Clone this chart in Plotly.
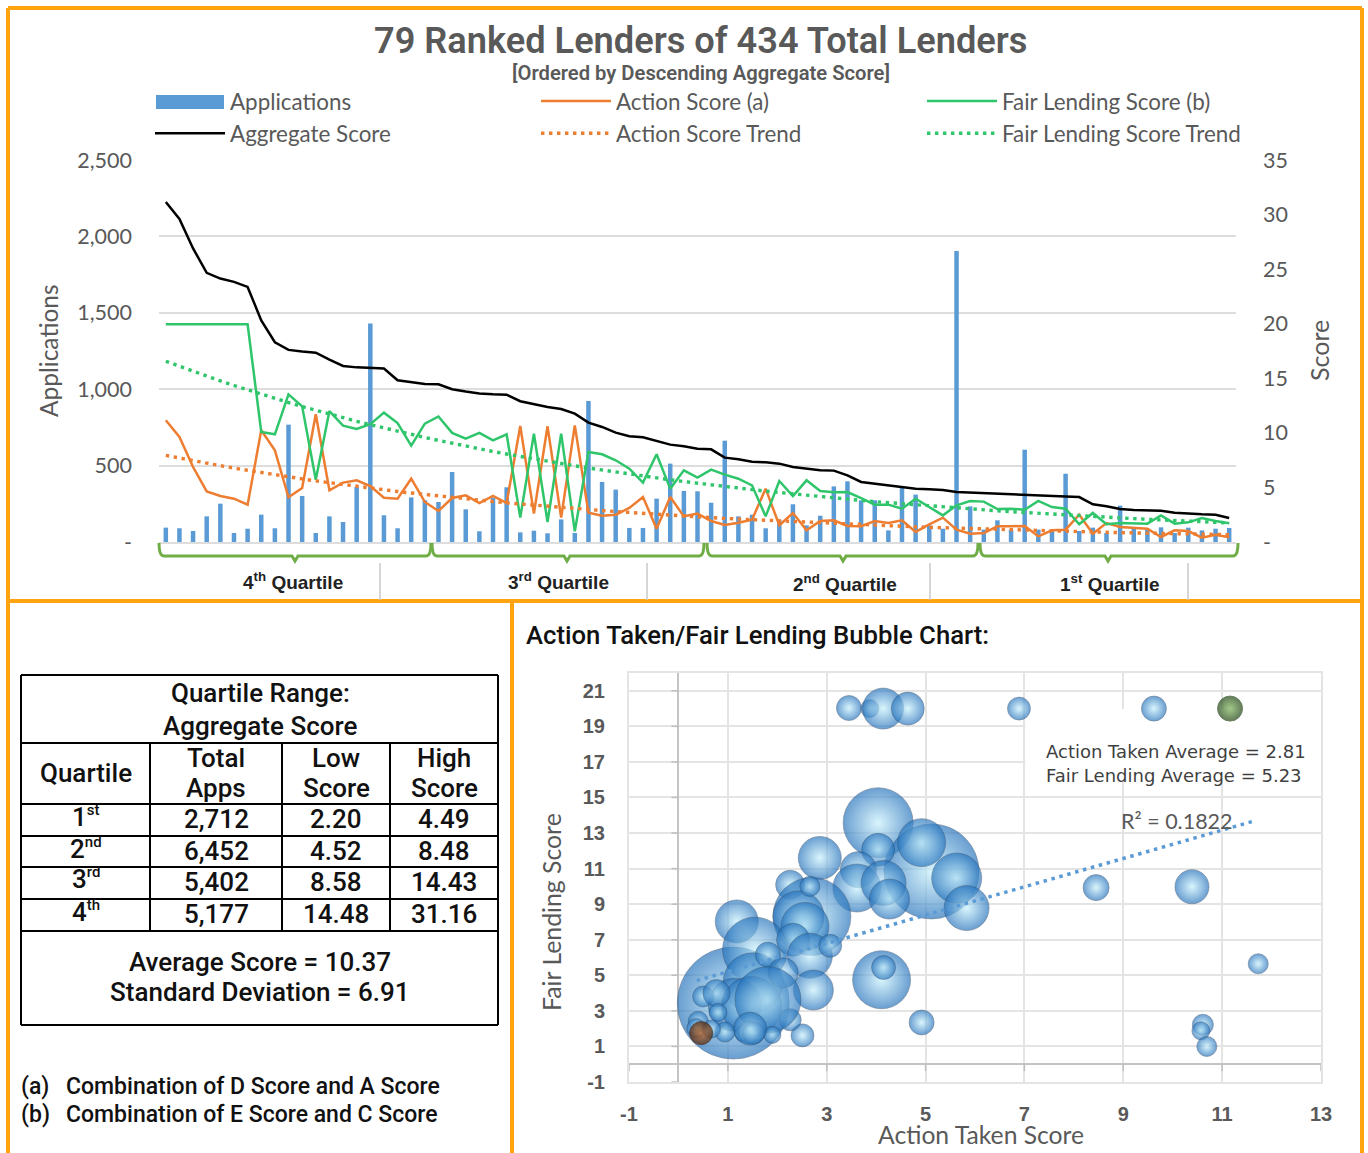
import plotly.graph_objects as go

W, H = 1368, 1153

# ---------- ranked-lender chart data ----------
applications = [94,90,72,168,251,59,87,179,90,768,301,59,168,131,360,1430,175,90,292,273,262,458,214,70,290,358,63,74,57,148,
                59,923,393,343,92,92,284,513,334,332,257,663,168,179,90,142,247,109,172,364,397,273,273,76,360,310,109,87,1905,233,
                81,142,81,604,81,76,447,72,94,59,238,87,87,96,59,94,76,87,92]
aggregate_score = [31.16,29.6,26.9,24.66,24.14,23.83,23.37,20.3,18.3,17.6,17.45,17.35,16.7,16.13,16.0,15.95,15.9,14.82,14.63,14.48,
                   14.45,14.0,13.78,13.6,13.53,13.5,12.9,12.6,12.37,12.19,11.76,10.94,10.54,10.02,9.69,9.59,9.23,8.92,8.77,8.55,
                   8.49,7.73,7.58,7.36,7.3,7.18,6.87,6.75,6.57,6.54,6.11,5.5,5.35,5.16,5.07,4.89,4.83,4.77,4.58,4.52,
                   4.49,4.40,4.37,4.34,4.25,4.16,4.16,4.12,3.45,3.27,3.02,2.93,2.90,2.87,2.69,2.6,2.54,2.5,2.2]
action_score = [11.15,9.62,6.87,4.64,4.22,3.97,3.42,10.24,8.4,4.09,4.95,11.7,4.74,5.44,5.65,5.13,4.06,3.97,5.8,3.67,
                2.84,4.03,4.28,3.57,4.22,3.57,10.63,2.6,10.6,2.23,10.69,2.69,2.41,2.5,3.12,4.12,1.22,4.12,2.35,2.6,
                1.92,1.56,1.77,2.05,4.89,1.53,2.66,1.07,1.92,1.99,1.47,1.44,1.92,1.74,1.99,0.92,1.62,2.23,1.13,0.76,
                0.82,1.44,1.44,1.47,0.52,1.07,1.13,2.5,0.76,1.74,1.37,1.31,1.22,0.46,1.07,1.0,0.4,0.67,0.43]
fair_score = [19.95,19.95,19.95,19.95,19.95,19.95,19.95,10.08,9.87,13.53,12.43,5.71,12.0,10.66,10.36,10.79,11.85,10.9,8.83,10.85,
              11.5,10.0,9.47,10.0,9.32,9.87,2.23,9.93,1.83,9.93,0.98,8.25,8.04,7.49,6.72,5.44,8.04,4.89,6.57,5.9,
              6.63,6.17,5.8,5.19,2.35,5.59,4.2,5.65,4.67,4.55,4.58,4.03,3.42,3.42,3.05,3.97,3.2,2.44,3.36,3.76,
              3.7,3.02,3.05,2.96,3.76,3.2,3.05,1.62,2.66,1.62,1.74,1.68,1.68,2.44,1.68,1.8,2.2,1.92,1.71]
action_trend = [7.94,7.69,7.45,7.22,6.99,6.77,6.56,6.36,6.16,5.97,5.78,5.60,5.43,5.26,5.09,4.94,4.78,4.63,4.49,4.35,
                4.21,4.08,3.95,3.83,3.71,3.59,3.48,3.37,3.27,3.17,3.07,2.97,2.88,2.79,2.70,2.62,2.54,2.46,2.38,2.31,
                2.23,2.16,2.10,2.03,1.97,1.91,1.85,1.79,1.73,1.68,1.63,1.58,1.53,1.48,1.43,1.39,1.34,1.30,1.26,1.22,
                1.18,1.15,1.11,1.08,1.04,1.01,0.98,0.95,0.92,0.89,0.86,0.84,0.81,0.79,0.76,0.74,0.72,0.69,0.67]
fair_trend = [16.56,16.09,15.63,15.19,14.76,14.34,13.93,13.53,13.15,12.78,12.41,12.06,11.72,11.38,11.06,10.75,10.44,10.14,9.86,9.58,
              9.31,9.04,8.78,8.53,8.29,8.06,7.83,7.61,7.39,7.18,6.98,6.78,6.59,6.40,6.22,6.04,5.87,5.70,5.54,5.38,
              5.23,5.08,4.94,4.80,4.66,4.53,4.40,4.28,4.16,4.04,3.92,3.81,3.70,3.60,3.50,3.40,3.30,3.21,3.12,3.03,
              2.94,2.86,2.78,2.70,2.62,2.55,2.47,2.40,2.34,2.27,2.21,2.14,2.08,2.02,1.97,1.91,1.86,1.80,1.75]
rank = list(range(1, len(applications) + 1))

apps_ticks = [0, 500, 1000, 1500, 2000, 2500]
apps_labels = ["-", "500", "1,000", "1,500", "2,000", "2,500"]
score_ticks = [0, 5, 10, 15, 20, 25, 30, 35]
score_labels = ["-", "5", "10", "15", "20", "25", "30", "35"]
bubble_x_ticks = [-1, 1, 3, 5, 7, 9, 11, 13]
bubble_x_labels = ["-1", "1", "3", "5", "7", "9", "11", "13"]
bubble_y_ticks = [-1, 1, 3, 5, 7, 9, 11, 13, 15, 17, 19, 21]
bubble_y_labels = ["-1", "1", "3", "5", "7", "9", "11", "13", "15", "17", "19", "21"]

# ---------- bubble chart data ----------
bubble_action = [1.11,4.04,5.12,4.92,5.63,5.83,4.04,2.86,3.64,3.61,4.15,4.27,2.26,2.70,2.43,2.56,2.66,1.18,1.55,1.51,2.32,
                 2.66,3.07,1.81,2.12,2.73,4.11,4.15,4.92,2.51,2.26,1.14,1.48,1.81,0.5,0.77,0.8,0.40,0.36,0.94,0.67,
                 1.30,1.42,1.52,1.90,1.45,3.45,3.87,4.14,4.64,6.89,9.62,8.45,10.39,11.73,10.61,10.57,10.69]
bubble_fair = [3.44,13.58,10.84,12.46,10.47,8.78,12.06,11.6,10.94,9.91,10.19,9.29,10.09,8.31,8.31,7.75,10.0,8.03,6.44,4.58,7.0,
               6.1,6.66,6.16,5.14,4.17,4.75,5.44,2.35,1.62,2.5,3.34,3.25,3.63,3.81,4.0,2.91,2.41,2.03,1.81,1.98,
               1.72,1.80,1.75,1.65,2.0,20.03,20.0,20.0,20.0,20.0,20.0,9.93,9.98,5.65,2.22,1.88,1.0]
bubble_apps = [1905,744,1370,350,380,307,165,281,197,350,307,243,128,924,395,350,61,281,642,547,165,
               307,80,95,137,243,511,87,95,80,74,427,547,662,67,111,49,61,55,61,49,
               39,74,74,44,165,95,49,255,165,80,95,103,176,61,67,49,61]
green_action, green_fair, green_apps = [11.16], [20.0], [95]
brown_action, brown_fair, brown_apps = [0.46], [1.75], [80]
fit_action = [0.37, 11.6]
fit_fair = [4.7, 13.64]

# ---------- table data ----------
quartiles = ["1", "2", "3", "4"]
ordinals = ["st", "nd", "rd", "th"]
total_apps = ["2,712", "6,452", "5,402", "5,177"]
low_score = ["2.20", "4.52", "8.58", "14.48"]
high_score = ["4.49", "8.48", "14.43", "31.16"]

ORANGE, GREEN, BLUE = "#ED7D31", "#2FC56B", "#5B9BD5"
GRAY, GRID = "#595959", "#DDDDDD"
SANS, LATO, HEAD = "Liberation Sans", "Lato", "Roboto"


def fx(px):
    return px / W


def fy(py):
    return 1 - py / H


fig = go.Figure()
fig.add_bar(x=rank, y=applications, name="Applications", marker=dict(color=BLUE, line=dict(width=0)), width=0.33)
line_common = dict(x=rank, yaxis="y2", mode="lines")
fig.add_scatter(y=action_score, name="Action Score (a)", line=dict(color=ORANGE, width=2.5), **line_common)
fig.add_scatter(y=fair_score, name="Fair Lending Score (b)", line=dict(color=GREEN, width=2.5), **line_common)
fig.add_scatter(y=aggregate_score, name="Aggregate Score", line=dict(color="#000000", width=2.5), **line_common)
fig.add_scatter(y=action_trend, name="Action Score Trend", line=dict(color=ORANGE, width=3.4, dash="3.4px,4.6px"), **line_common)
fig.add_scatter(y=fair_trend, name="Fair Lending Score Trend", line=dict(color=GREEN, width=3.4, dash="3.4px,4.6px"), **line_common)

K2 = 2 / 6.58
blue_marker = dict(sizemode="area", sizeref=K2, opacity=0.68, color="#2472BC",
                   gradient=dict(type="radial", color="#C8F1FC"),
                   line=dict(color="rgba(45,70,100,0.6)", width=1))
fig.add_scatter(x=bubble_action, y=bubble_fair, mode="markers", xaxis="x2", yaxis="y3", showlegend=False,
                name="Lenders", marker=dict(size=bubble_apps, **blue_marker))
fig.add_scatter(x=green_action, y=green_fair, mode="markers", xaxis="x2", yaxis="y3", showlegend=False, name="Green lender",
                marker=dict(size=green_apps, sizemode="area", sizeref=K2, color="#1F4413",
                            gradient=dict(type="radial", color="#7DB356"), line=dict(color="#2A4A1E", width=1)))
fig.add_scatter(x=brown_action, y=brown_fair, mode="markers", xaxis="x2", yaxis="y3", showlegend=False, name="Brown lender",
                marker=dict(size=brown_apps, sizemode="area", sizeref=K2, color="#5A2503",
                            gradient=dict(type="radial", color="#CE6A22"), line=dict(color="#4A2004", width=1)))
fig.add_scatter(x=fit_action, y=fit_fair, mode="lines", xaxis="x2", yaxis="y3", showlegend=False, name="Trend",
                line=dict(color=BLUE, width=3.5, dash="3.5px,4.7px"))

shapes, notes = [], []


def line(x0, y0, x1, y1, color, width):
    shapes.append(dict(type="line", xref="paper", yref="paper", x0=fx(x0), y0=fy(y0), x1=fx(x1), y1=fy(y1),
                       line=dict(color=color, width=width), layer="above"))


def text(x, y, s, size, color="#111111", font=SANS, weight=None, anchor="center", angle=0):
    notes.append(dict(xref="paper", yref="paper", x=fx(x), y=fy(y), text=s, showarrow=False, xanchor=anchor, yanchor="middle",
                      textangle=angle, font=dict(size=size, color=color, family=font, weight=weight)))


# frames
FRAME = "#FFA30F"
line(8, 8, 1362, 8, FRAME, 4)
line(8, 8, 8, H, FRAME, 4)
line(1362, 8, 1362, H, FRAME, 4)
line(8, 601, 1362, 601, FRAME, 4)
line(512, 601, 512, H, FRAME, 4)

# legend swatch for the bar series (Excel draws it wide)
shapes.append(dict(type="rect", xref="paper", yref="paper", x0=fx(156), x1=fx(224), y0=fy(95), y1=fy(109),
                   fillcolor=BLUE, line=dict(width=0), layer="above"))

# titles and axis titles, upper chart
text(700, 40, "79 Ranked Lenders of 434 Total Lenders", 36.2, GRAY, HEAD, 600)
text(701, 73, "[Ordered by Descending Aggregate Score]", 20.2, GRAY, HEAD, 600)
text(48, 351, "Applications", 24.5, GRAY, LATO, angle=-90)
text(1319, 351, "Score", 25, GRAY, LATO, angle=-90)

# quartile braces
GB = "#70AD47"
for a, b, t in [(159, 431, 295), (432, 704, 567), (707, 978, 843), (980, 1238, 1108)]:
    p = (f"M{fx(a)},{fy(543)} Q{fx(a)},{fy(556)} {fx(a + 5)},{fy(556)} L{fx(t - 3)},{fy(556)} L{fx(t)},{fy(561)} "
         f"L{fx(t + 3)},{fy(556)} L{fx(b - 5)},{fy(556)} Q{fx(b)},{fy(556)} {fx(b)},{fy(543)}")
    shapes.append(dict(type="path", xref="paper", yref="paper", path=p, line=dict(color=GB, width=3), layer="above"))
for x in [380, 647, 930, 1188]:
    line(x, 563, x, 600, "#C8C8C8", 1.5)
for x, y, s in [(293, 581, "4<sup>th</sup> Quartile"), (558, 581, "3<sup>rd</sup> Quartile"),
                (845, 583, "2<sup>nd</sup> Quartile"), (1109, 583, "1<sup>st</sup> Quartile")]:
    text(x, y, s, 19, "#222222", SANS, 700)

# table grid
for y in [675, 743, 804, 836, 867, 899, 931, 1025]:
    line(21, y, 498, y, "#000000", 2)
line(21, 675, 21, 1025, "#000000", 2)
line(498, 675, 498, 1025, "#000000", 2)
for x in [150, 282, 390]:
    line(x, 743, x, 931, "#000000", 2)

TS, TW = 26, 500
text(260, 693, "Quartile Range:", TS, font=HEAD, weight=TW)
text(260, 726, "Aggregate Score", TS, font=HEAD, weight=TW)
text(86, 773, "Quartile", TS, font=HEAD, weight=TW)
text(216, 758, "Total", TS, font=HEAD, weight=TW)
text(216, 788, "Apps", TS, font=HEAD, weight=TW)
text(336, 758, "Low", TS, font=HEAD, weight=TW)
text(336, 788, "Score", TS, font=HEAD, weight=TW)
text(444, 758, "High", TS, font=HEAD, weight=TW)
text(444, 788, "Score", TS, font=HEAD, weight=TW)
for cy, q, o, a, lo, hi in zip([819, 851, 882, 914], quartiles, ordinals, total_apps, low_score, high_score):
    text(86, cy - 3, f"{q}<sup><span style='font-size:15px'>{o}</span></sup>", TS, font=HEAD, weight=TW)
    text(216, cy, a, TS, font=HEAD, weight=TW)
    text(336, cy, lo, TS, font=HEAD, weight=TW)
    text(444, cy, hi, TS, font=HEAD, weight=TW)
text(260, 962, "Average Score = 10.37", TS, font=HEAD, weight=TW)
text(260, 992, "Standard Deviation = 6.91", TS, font=HEAD, weight=TW)
text(19, 1086, "(a)", 23, font=HEAD, weight=TW, anchor="left")
text(64, 1086, "Combination of D Score and A Score", 23, font=HEAD, weight=TW, anchor="left")
text(19, 1114, "(b)", 23, font=HEAD, weight=TW, anchor="left")
text(64, 1114, "Combination of E Score and C Score", 23, font=HEAD, weight=TW, anchor="left")

# bubble chart texts
text(524, 635, "Action Taken/Fair Lending Bubble Chart:", 25.7, font=HEAD, weight=TW, anchor="left")
text(551, 912, "Fair Lending Score", 24.8, GRAY, LATO, angle=-90)
text(981, 1134, "Action Taken Score", 24.7, GRAY, LATO)
text(1044, 751, "Action Taken Average = 2.81", 18, "#3F3F3F", "DejaVu Sans", anchor="left")
text(1044, 775, "Fair Lending Average = 5.23", 18, "#3F3F3F", "DejaVu Sans", anchor="left")
text(1177, 821, "R² = 0.1822", 21.5, GRAY, LATO)

# white panel behind the averages note, above the grid and below the bubbles
shapes.append(dict(type="rect", xref="x2", yref="y3", x0=7.02, x1=13.15, y0=16.0, y1=19.98,
                   fillcolor="#FFFFFF", line=dict(width=0), layer="between"))
# small axis ticks on the zero-crossing axes
for v in range(-1, 23, 2):
    shapes.append(dict(type="line", xref="x2", yref="y3", xsizemode="pixel", xanchor=0, x0=-7, x1=0, y0=v, y1=v,
                       line=dict(color="#BFBFBF", width=1.5), layer="between"))
for v in range(-1, 15, 2):
    shapes.append(dict(type="line", xref="x2", yref="y3", ysizemode="pixel", yanchor=0, y0=0, y1=-7, x0=v, x1=v,
                       line=dict(color="#BFBFBF", width=1.5), layer="between"))

tick_font = dict(size=21.5, color=GRAY, family=LATO)
bold_tick = dict(size=20, color=GRAY, family=SANS, weight=700)
fig.update_layout(
    width=W, height=H, autosize=False, margin=dict(l=0, r=0, t=0, b=0, autoexpand=False),
    paper_bgcolor="#FFFFFF", plot_bgcolor="#FFFFFF", bargap=0.6,
    shapes=shapes, annotations=notes,
    legend=dict(orientation="h", x=fx(150), y=fy(80), xanchor="left", yanchor="top", itemwidth=70,
                entrywidth=301, entrywidthmode="pixels", font=dict(size=22.4, color=GRAY, family=LATO),
                bgcolor="rgba(0,0,0,0)", traceorder="normal", itemclick=False),
    xaxis=dict(domain=[fx(159), fx(1236)], range=[0.5, 79.5], showticklabels=False, ticks="", showgrid=False,
               showline=True, linecolor=GRID, linewidth=2, anchor="y", zeroline=False),
    yaxis=dict(domain=[fy(542), fy(160)], range=[0, 2500], tickvals=apps_ticks, ticktext=apps_labels, tickfont=tick_font,
               gridcolor=GRID, gridwidth=2, zeroline=False, ticks="", ticklabelstandoff=26),
    yaxis2=dict(domain=[fy(542), fy(160)], range=[0, 35], tickvals=score_ticks, ticktext=score_labels, tickfont=tick_font,
                overlaying="y", side="right", showgrid=False, zeroline=False, ticks="", ticklabelstandoff=26),
    xaxis2=dict(domain=[fx(629), fx(1321)], range=[-1, 13], tickvals=bubble_x_ticks, ticktext=bubble_x_labels,
                tickfont=bold_tick, anchor="y3",
                gridcolor="#E4E4E4", gridwidth=2, zeroline=True, zerolinecolor="#C4C4C4", zerolinewidth=2,
                showline=True, mirror=True, linecolor="#E4E4E4", linewidth=2, ticks="", ticklabelstandoff=13),
    yaxis3=dict(domain=[fy(1082), fy(673)], range=[-1, 22], tickvals=bubble_y_ticks, ticktext=bubble_y_labels,
                tickfont=bold_tick, anchor="x2",
                gridcolor="#E4E4E4", gridwidth=2, zeroline=True, zerolinecolor="#C4C4C4", zerolinewidth=2,
                showline=True, mirror=True, linecolor="#E4E4E4", linewidth=2, ticks="", ticklabelstandoff=18),
)

fig.write_html("out.html", config={"displayModeBar": False},
               post_script="document.body.style.margin='0';document.documentElement.style.overflow='hidden';")
